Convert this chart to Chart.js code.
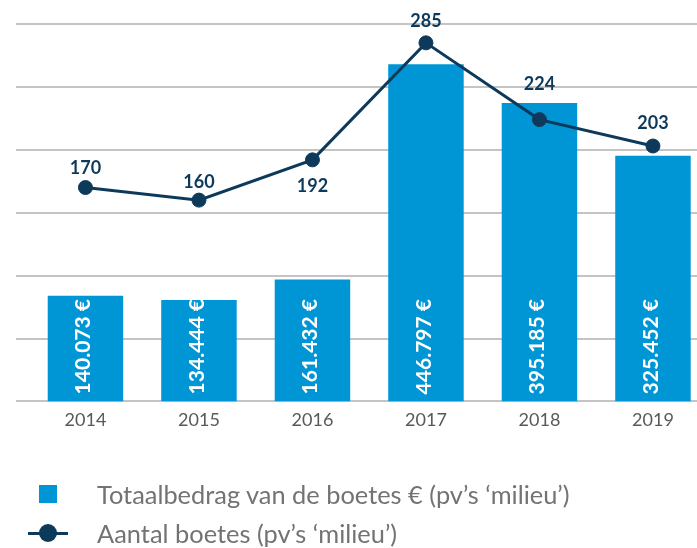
<!DOCTYPE html>
<html><head><meta charset="utf-8">
<script src="https://cdn.jsdelivr.net/npm/chart.js@4.4.1/dist/chart.umd.min.js"></script>
<style>
html,body{margin:0;padding:0;background:#fff;overflow:hidden}
#wrap{position:relative;width:697px;height:548px}
#c{position:absolute;left:0;top:0}
.lg{position:absolute;left:28px;height:40px;display:flex;align-items:center;font-family:Lato,'Open Sans',sans-serif;font-size:25.4px;color:#737373;white-space:nowrap}
.mk{width:40px;height:40px;position:relative;margin-right:29px;flex:none}
</style></head><body>
<div id="wrap"><canvas id="c" width="697" height="548"></canvas><div id="legend"></div></div>
<script>
// ---- data ----
const years = ['2014', '2015', '2016', '2017', '2018', '2019'];
const totalAmount = [140073, 134444, 161432, 446797, 395185, 325452];
const fineCount = [170, 160, 192, 285, 224, 203];
const seriesNames = ['Totaalbedrag van de boetes € (pv’s ‘milieu’)', 'Aantal boetes (pv’s ‘milieu’)'];

const BAR = '#0096d6';
const NAVY = '#0d3a5b';

function fmtEuro(v) { return String(v).replace(/\B(?=(\d{3})+(?!\d))/g, '.') + ' €'; }

const valueLabels = {
  id: 'valueLabels',
  afterDatasetsDraw(chart, args, opts) {
    const ctx = chart.ctx;
    ctx.save();
    // bar labels (rotated, white)
    const barMeta = chart.getDatasetMeta(0);
    ctx.fillStyle = '#ffffff';
    ctx.font = 'bold 21px Lato';
    ctx.textAlign = 'left';
    ctx.textBaseline = 'middle';
    barMeta.data.forEach((el, i) => {
      ctx.save();
      ctx.translate(el.x - 2, el.base - 7);
      ctx.rotate(-Math.PI / 2);
      ctx.fillText(fmtEuro(chart.data.datasets[0].data[i]), 0, 0);
      ctx.restore();
    });
    // line labels
    const lineMeta = chart.getDatasetMeta(1);
    ctx.fillStyle = NAVY;
    ctx.font = 'bold 18px Lato';
    ctx.textAlign = 'center';
    lineMeta.data.forEach((el, i) => {
      ctx.fillText(String(chart.data.datasets[1].data[i]), el.x, el.y + opts.offsets[i]);
    });
    ctx.restore();
  }
};

const chart = new Chart(document.getElementById('c'), {
  data: {
    labels: years,
    datasets: [
      {
        type: 'bar',
        label: seriesNames[0],
        data: totalAmount,
        backgroundColor: BAR,
        yAxisID: 'y',
        categoryPercentage: 1,
        barPercentage: 0.665,
        order: 1
      },
      {
        type: 'line',
        label: seriesNames[1],
        data: fineCount,
        borderColor: NAVY,
        backgroundColor: NAVY,
        borderWidth: 3,
        pointRadius: 7,
        pointBorderWidth: 1,
        pointBackgroundColor: NAVY,
        pointBorderColor: NAVY,
        tension: 0,
        clip: false,
        yAxisID: 'y1',
        order: 0
      }
    ]
  },
  options: {
    responsive: false,
    animation: false,
    devicePixelRatio: 1,
    layout: { autoPadding: false, padding: { left: 16, right: 0, top: 24, bottom: 109 } },
    plugins: {
      legend: { display: false },
      tooltip: { enabled: false },
      valueLabels: { offsets: [-19, -18, 26, -22, -35, -23] }
    },
    scales: {
      x: {
        type: 'linear',
        offset: false,
        min: Number(years[0]) - 0.612,
        max: Number(years[years.length - 1]) + 0.388,
        afterBuildTicks: (s) => { s.ticks = years.map(y => ({ value: Number(y) })); },
        afterFit: (s) => { s.paddingLeft = 0; s.paddingRight = 0; },
        ticks: {
          callback: (v) => String(v),
          font: { family: 'Lato', size: 18 },
          color: '#595959',
          padding: 8,
          autoSkip: false,
          maxRotation: 0
        },
        grid: { display: false, drawTicks: false, offset: false },
        border: { display: false }
      },
      y: {
        type: 'linear',
        display: false,
        min: 0,
        max: 500000
      },
      y1: {
        type: 'linear',
        position: 'left',
        min: 0,
        max: 300,
        ticks: { display: false, stepSize: 50 },
        grid: { color: '#c4c4c4', lineWidth: 2, drawTicks: false },
        border: { display: false }
      }
    }
  },
  plugins: [valueLabels]
});

// HTML legend built from the chart's datasets
const legend = document.getElementById('legend');
const rowTops = [474, 513];
chart.data.datasets.forEach((ds, i) => {
  const row = document.createElement('div');
  row.className = 'lg';
  row.style.top = rowTops[i] + 'px';
  const mk = document.createElement('div');
  mk.className = 'mk';
  if (ds.type === 'bar') {
    mk.innerHTML = '<div style="position:absolute;left:11px;top:11px;width:18px;height:18px;background:' + ds.backgroundColor + '"></div>';
  } else {
    mk.innerHTML = '<div style="position:absolute;left:0;top:18.5px;width:40px;height:3px;background:' + ds.borderColor + '"></div>' +
      '<div style="position:absolute;left:11px;top:11px;width:18px;height:18px;border-radius:50%;background:' + ds.borderColor + '"></div>';
  }
  const txt = document.createElement('span');
  txt.textContent = ds.label;
  row.appendChild(mk);
  row.appendChild(txt);
  legend.appendChild(row);
});
</script>
</body></html>
